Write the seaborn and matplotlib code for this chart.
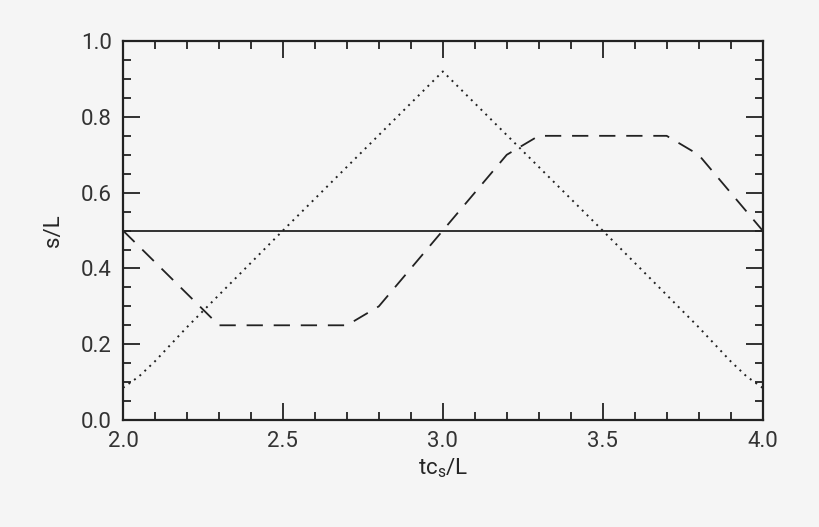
import matplotlib
matplotlib.use("Agg")
import matplotlib.pyplot as plt
import pandas as pd
import seaborn as sns
from matplotlib.ticker import MultipleLocator, FormatStrFormatter

# values
flat_x = [2.0, 4.0]
flat_y = [0.5, 0.5]

dot_x = [2.0, 2.05, 2.1, 2.2, 2.5, 3.0, 3.5, 3.8, 3.9, 3.95, 4.0]
dot_y = [0.085, 0.115, 0.155, 0.245, 0.5, 0.92, 0.5, 0.245, 0.155, 0.115, 0.085]

dash_x = [2.0, 2.3, 2.7, 2.8, 3.2, 3.3, 3.7, 3.8, 4.0]
dash_y = [0.5, 0.25, 0.25, 0.3, 0.7, 0.75, 0.75, 0.7, 0.5]

bg = "#f5f5f5"
ink = "#222222"

sns.set_style("ticks")
plt.rcParams["font.family"] = ["Roboto", "DejaVu Sans"]
plt.rcParams.update({
    "figure.facecolor": bg,
    "axes.facecolor": bg,
    "axes.edgecolor": ink,
    "text.color": "#333333",
    "xtick.color": ink,
    "ytick.color": ink,
    "xtick.labelcolor": "#333333",
    "ytick.labelcolor": "#333333",
    "mathtext.default": "regular",
})

fig = plt.figure(figsize=(8.2, 5.27), dpi=100)
ax = fig.add_axes([0.150, 0.203, 0.780, 0.719])

df_flat = pd.DataFrame({"x": flat_x, "y": flat_y})
df_dot = pd.DataFrame({"x": dot_x, "y": dot_y})
df_dash = pd.DataFrame({"x": dash_x, "y": dash_y})

sns.lineplot(data=df_flat, x="x", y="y", ax=ax, color=ink, lw=1.3, sort=False)
sns.lineplot(data=df_dot, x="x", y="y", ax=ax, color=ink, lw=1.4, sort=False,
             linestyle=(0, (1, 2.5)))
sns.lineplot(data=df_dash, x="x", y="y", ax=ax, color=ink, lw=1.3, sort=False,
             linestyle=(0, (9, 6)))

ax.set_xlim(2.0, 4.0)
ax.set_ylim(0.0, 1.0)
ax.xaxis.set_major_locator(MultipleLocator(0.5))
ax.xaxis.set_minor_locator(MultipleLocator(0.1))
ax.yaxis.set_major_locator(MultipleLocator(0.2))
ax.yaxis.set_minor_locator(MultipleLocator(0.05))
ax.xaxis.set_major_formatter(FormatStrFormatter("%.1f"))
ax.yaxis.set_major_formatter(FormatStrFormatter("%.1f"))

ax.tick_params(which="both", direction="in", top=True, right=True, width=1.3)
ax.tick_params(which="major", length=12, labelsize=16, pad=8)
ax.tick_params(which="minor", length=6)
for s in ax.spines.values():
    s.set_linewidth(1.6)
    s.set_visible(True)

ax.set_xlabel(r"tc$_\mathregular{s}$/L", fontsize=16, labelpad=3)
ax.set_ylabel("s/L", fontsize=16, labelpad=12)

fig.savefig("out.png", dpi=100, facecolor=bg)
